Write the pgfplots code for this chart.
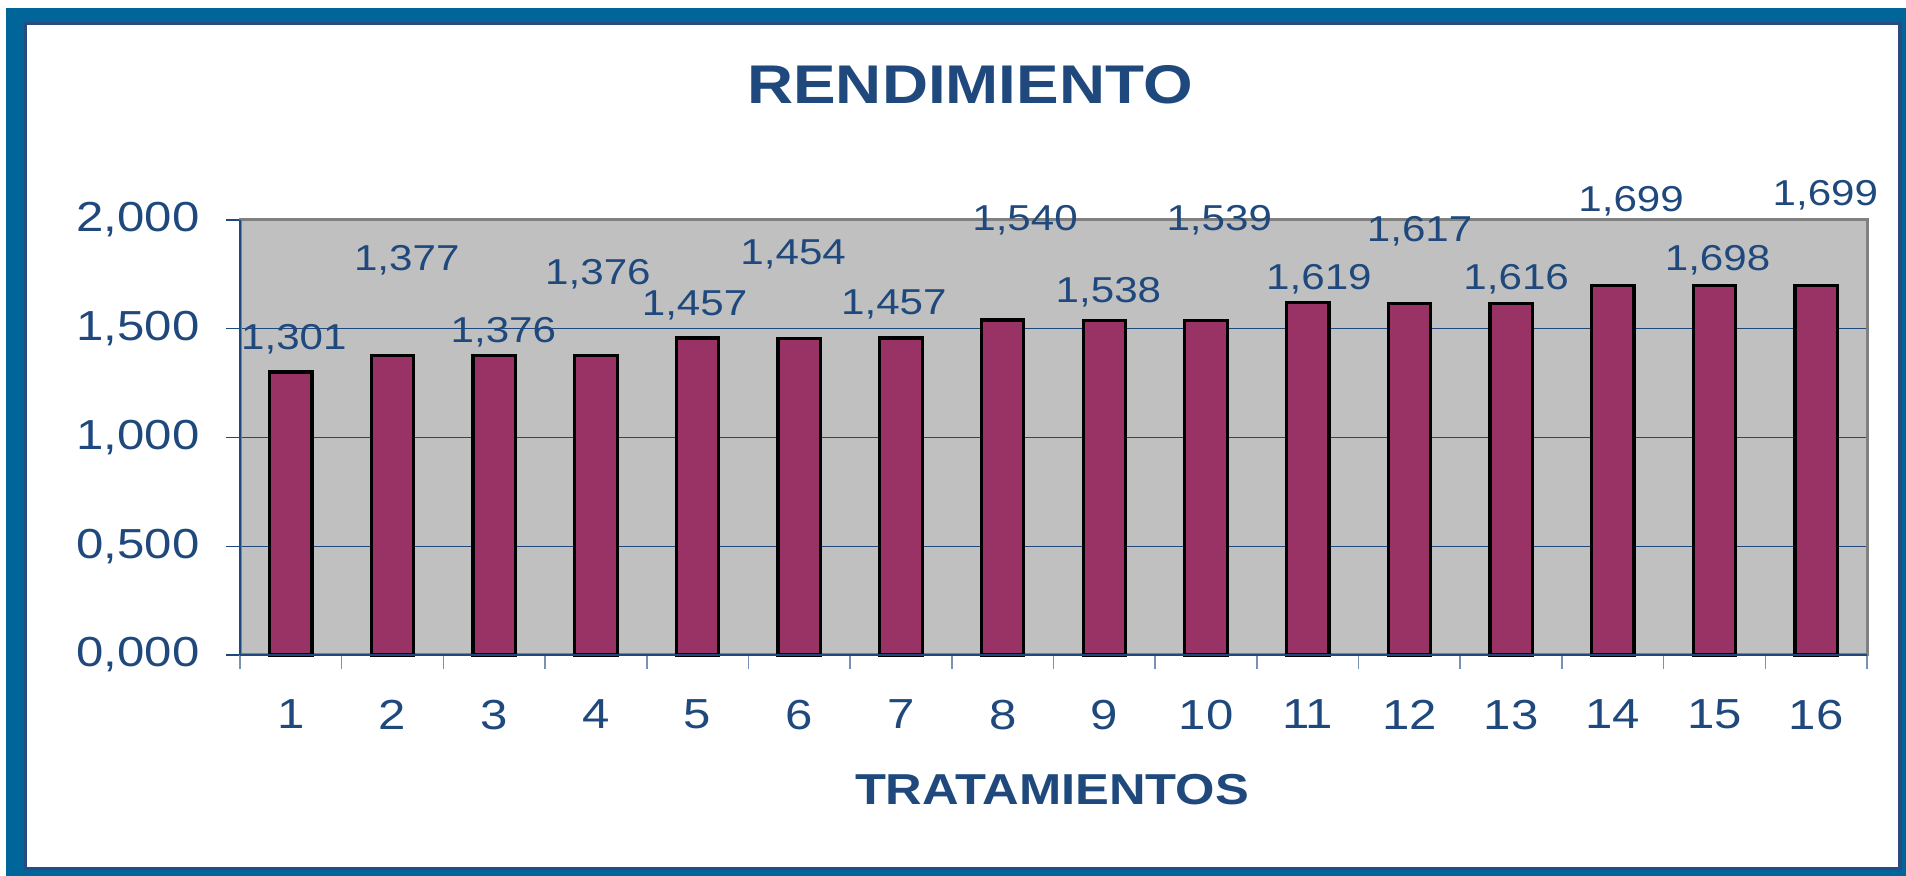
\documentclass[border=0pt]{standalone}
\usepackage{fontspec}
\setmainfont{Liberation Sans}[FakeStretch=1.17]
\usepackage{pgfplots}
\pgfplotsset{compat=1.18}
\usepackage{pgfplotstable}
\definecolor{navy}{HTML}{1F497D}
\definecolor{frameblue}{HTML}{006699}
\definecolor{framenavy}{HTML}{2A4A80}
\definecolor{barc}{HTML}{993366}
\definecolor{plotbg}{HTML}{C0C0C0}
\definecolor{plotborder}{HTML}{808080}

% x: treatment, y: rendimiento, lx/ly: where Excel put the data label
\pgfplotstableread{
x  y     lx    ly
1  1.301 1.03  1.454
2  1.377 2.14  1.816
3  1.376 3.09  1.485
4  1.376 4.02  1.750
5  1.457 4.97  1.605
6  1.454 5.94  1.844
7  1.457 6.93  1.614
8  1.540 8.22  1.998
9  1.538 9.04  1.667
10 1.539 10.13 1.998
11 1.619 11.11 1.726
12 1.617 12.10 1.950
13 1.616 13.05 1.729
14 1.699 14.18 2.084
15 1.698 15.03 1.816
16 1.699 16.09 2.115
}\data

\begin{document}
\begin{tikzpicture}
\useasboundingbox (0,0) rectangle (953pt,438pt);
\fill[frameblue] (3pt,0pt) rectangle (953pt,434pt);
\fill[framenavy] (12pt,3pt) rectangle (951pt,427pt);
\fill[white] (13.5pt,4.5pt) rectangle (949pt,425.5pt);
\begin{axis}[
  at={(120pt,110.5pt)}, anchor=south west,
  scale only axis, width=813.5pt, height=217.5pt,
  xmin=0.5, xmax=16.5, ymin=0, ymax=2,
  clip=false,
  axis background/.style={fill=plotbg},
  axis line style={plotborder, line width=1.5pt},
  tick align=outside,
  major tick length=7pt,
  xtick pos=bottom, ytick pos=left,
  xtick={0.5,1.5,...,16.5},
  xticklabels={},
  xtick style={navy!60, line width=0.8pt},
  extra x ticks={1,2,...,16},
  extra x tick labels={1,2,3,4,5,6,7,8,9,10,11,12,13,14,15,16},
  extra x tick style={major tick length=0pt, tick style={draw=none}},
  ytick={0,0.5,1,1.5,2},
  ytick style={navy, line width=0.6pt},
  ymajorgrids,
  grid style={navy, line width=0.5pt},
  ticklabel style={font=\fontsize{21}{24}\selectfont, text=navy},
  yticklabel style={anchor=east, inner sep=0pt, xshift=-13pt,
    /pgf/number format/.cd, fixed, fixed zerofill, precision=3, use comma, assume math mode=true},
  xticklabel style={anchor=north, inner sep=0pt, yshift=-22.25pt,
    /pgf/number format/assume math mode=true},
]
\addplot[ybar, bar width=21.2pt, fill=barc, draw=black, line width=1.6pt] table[x=x,y=y]{\data};
\addplot[draw=none, mark=none, point meta=explicit,
  nodes near coords, nodes near coords align=center,
  every node near coord/.append style={anchor=center, inner sep=0pt, text=navy,
    font=\fontsize{18}{21}\selectfont,
    /pgf/number format/.cd, fixed, fixed zerofill, precision=3, use comma, assume math mode=true}]
  table[x=lx,y=ly,meta=y]{\data};
\draw[navy, line width=0.6pt] (rel axis cs:0,0) -- (rel axis cs:0,1);
\draw[navy, line width=0.6pt] (rel axis cs:0,0) -- (rel axis cs:1,0);
\end{axis}
\node[text=navy, font=\fontsize{27.25}{30}\selectfont\bfseries, inner sep=0pt] at (485pt,395.75pt) {RENDIMIENTO};
\node[text=navy, font=\fontsize{21.65}{24}\selectfont\bfseries, inner sep=0pt] at (526pt,43pt) {TRATAMIENTOS};
\end{tikzpicture}
\end{document}
